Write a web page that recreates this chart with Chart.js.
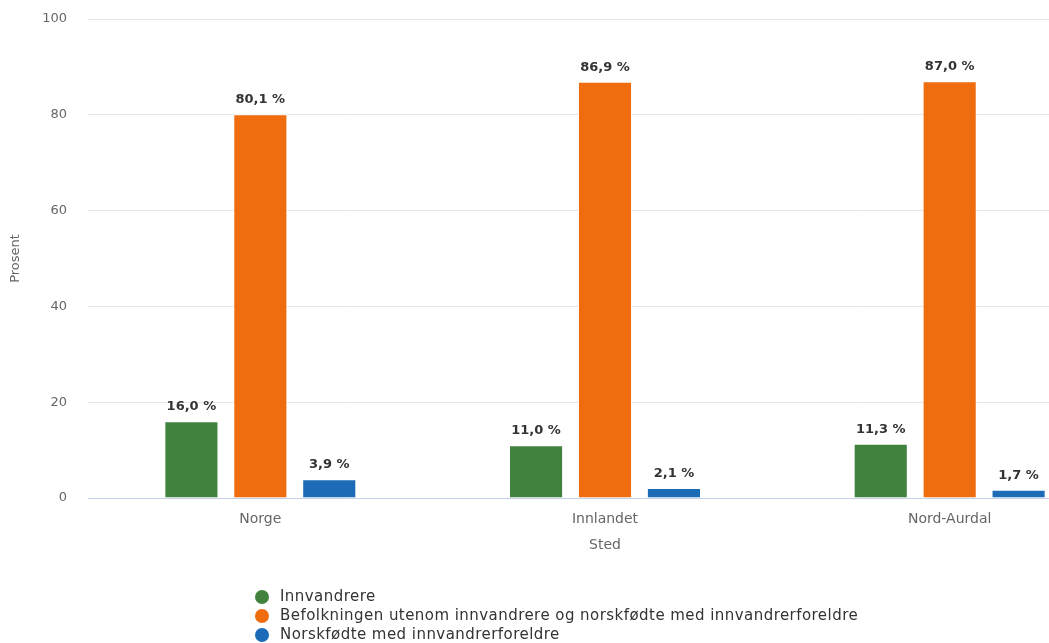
<!DOCTYPE html>
<html>
<head>
<meta charset="utf-8">
<script src="https://cdn.jsdelivr.net/npm/chart.js@4"></script>
<style>
  body { margin: 0; overflow: hidden; background: #fff; font-family: "DejaVu Sans", sans-serif; }
  #wrap { position: relative; width: 1122px; height: 643px; }
  #legend { position: absolute; left: 255px; top: 587px; font-size: 15px; letter-spacing: 0.45px; color: #333; }
  #legend div { height: 19px; line-height: 19px; display: flex; align-items: center; }
  #legend span.dot { width: 14px; height: 14px; border-radius: 50%; margin-right: 11px; display: inline-block; }
</style>
</head>
<body>
<div id="wrap">
  <canvas id="chart" width="1122" height="643"></canvas>
  <div id="legend"></div>
</div>
<script>
const places = ["Norge", "Innlandet", "Nord-Aurdal"];
const immigrants = [16.0, 11.0, 11.3];
const restOfPopulation = [80.1, 86.9, 87.0];
const norwegianBorn = [3.9, 2.1, 1.7];
const yTicks = [0, 20, 40, 60, 80, 100];

const seriesNames = [
  "Innvandrere",
  "Befolkningen utenom innvandrere og norskfødte med innvandrerforeldre",
  "Norskfødte med innvandrerforeldre",
];
const seriesColors = ["#41823f", "#ef6d0f", "#1c6bb6"];

// value labels above each bar, e.g. "80,1 %"
const barLabels = {
  id: "barLabels",
  afterDatasetsDraw(chart) {
    const ctx = chart.ctx;
    ctx.save();
    ctx.font = "bold 13px 'DejaVu Sans'";
    ctx.fillStyle = "#333";
    ctx.textAlign = "center";
    ctx.textBaseline = "bottom";
    chart.data.datasets.forEach((ds, i) => {
      chart.getDatasetMeta(i).data.forEach((bar, j) => {
        const txt = ds.data[j].toFixed(1).replace(".", ",") + " %";
        ctx.fillText(txt, bar.x, bar.y - 8);
      });
    });
    ctx.restore();
  },
};

const datasets = [immigrants, restOfPopulation, norwegianBorn].map((d, i) => ({
  label: seriesNames[i],
  data: d,
  backgroundColor: seriesColors[i],
  borderColor: "#ffffff",
  borderWidth: 1,
  categoryPercentage: 0.6,
  barPercentage: 0.785,
}));

const chart = new Chart(document.getElementById("chart"), {
  type: "bar",
  data: { labels: places, datasets: datasets },
  plugins: [barLabels],
  options: {
    responsive: false,
    animation: false,
    layout: { padding: { top: 19, right: 0, bottom: 85, left: 0 } },
    plugins: {
      legend: { display: false },
      tooltip: { enabled: false },
    },
    scales: {
      x: {
        grid: { display: false, drawTicks: false },
        border: { display: false },
        ticks: { color: "#666", font: { family: "DejaVu Sans", size: 14 }, padding: 13 },
        title: {
          display: true,
          text: "Sted",
          color: "#666",
          font: { family: "DejaVu Sans", size: 14 },
          padding: { top: 0, bottom: 4 },
        },
        afterFit(scale) { scale.height = 60; },
      },
      y: {
        min: 0,
        max: 100,
        afterBuildTicks(scale) { scale.ticks = yTicks.map(v => ({ value: v })); },
        grid: {
          drawTicks: false,
          color: (c) => (c.tick && c.tick.value === 0 ? "#c4d0ea" : "#e6e6e6"),
        },
        border: { display: false },
        ticks: { color: "#666", font: { family: "DejaVu Sans", size: 13 }, padding: 21 },
        title: {
          display: true,
          text: "Prosent",
          color: "#666",
          font: { family: "DejaVu Sans", size: 13 },
          padding: { top: 8, bottom: 0 },
        },
        afterFit(scale) {
          // fixed axis width, no extra room above/below the plot
          scale.width = 88;
          scale.paddingTop = 0;
          scale.paddingBottom = 0;
        },
      },
    },
  },
});

// legend listed one series per row
const legendBox = document.getElementById("legend");
chart.data.datasets.forEach((ds) => {
  const row = document.createElement("div");
  const dot = document.createElement("span");
  dot.className = "dot";
  dot.style.background = ds.backgroundColor;
  row.appendChild(dot);
  row.appendChild(document.createTextNode(ds.label));
  legendBox.appendChild(row);
});
</script>
</body>
</html>
